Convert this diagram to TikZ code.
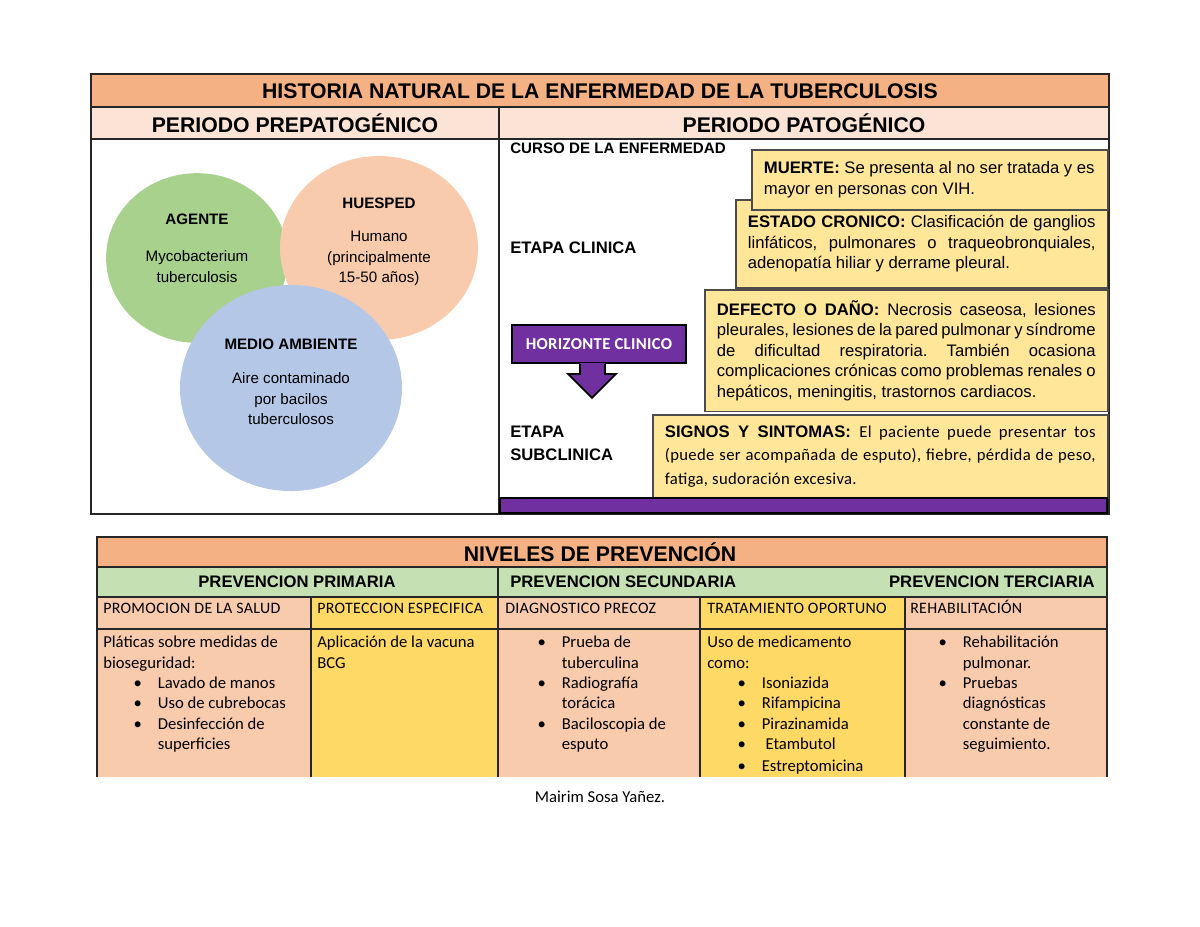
\documentclass[tikz,border=0pt]{standalone}
\usepackage{fontspec}
\setmainfont{Liberation Sans}
\newfontfamily\calibri{Carlito}
\newfontfamily\calibriwide{Carlito}[LetterSpace=2]
\usetikzlibrary{shapes,arrows,positioning,calc}

\definecolor{titleorange}{HTML}{F4B183}
\definecolor{periodpink}{HTML}{FBE4D5}
\definecolor{agentegreen}{HTML}{A9D18E}
\definecolor{huespedpeach}{HTML}{F8CBAD}
\definecolor{ambienteblue}{HTML}{B4C7E7}
\definecolor{stageyellow}{HTML}{FFE699}
\definecolor{hcpurple}{HTML}{7030A0}
\definecolor{prevgreen}{HTML}{C5E0B3}
\definecolor{cellpeach}{HTML}{F8CBAD}
\definecolor{cellyellow}{HTML}{FFD966}

\newcommand{\natspace}{\frenchspacing\spaceskip=0pt\xspaceskip=0pt}
\newcommand{\fullline}[1]{\makebox[\hsize][s]{#1}}
\newcommand{\bul}[1]{\hspace*{20pt}\makebox[16pt][l]{\textbullet}#1}
\newcommand{\bulcont}[1]{\hspace*{36pt}#1}

\begin{document}
\begin{tikzpicture}[x=0.66pt, y=-0.66pt,
  venn/.style={ellipse, inner sep=0pt},
  venntext/.style={align=center, font=\fontsize{10}{13.6}\selectfont},
  stagebox/.style={draw=black!70, line width=1pt, fill=stageyellow, anchor=north west,
    inner xsep=8pt, inner ysep=0pt, align=left, font=\fontsize{11}{13.5}\selectfont},
  bigtitle/.style={inner sep=0pt, font=\bfseries\fontsize{14}{16}\selectfont},
  stagelabel/.style={anchor=west, inner sep=0pt, align=left, font=\bfseries\fontsize{11}{15.2}\selectfont},
  prevhead/.style={inner sep=0pt, font=\bfseries\fontsize{11}{13}\selectfont},
  colhead/.style={anchor=base west, inner sep=0pt, font=\calibriwide\fontsize{10.5}{12}\selectfont},
  celltext/.style={anchor=north west, inner sep=0pt, align=left, font=\calibri\fontsize{11}{13.5}\selectfont},
  tablerule/.style={line width=1pt, draw=black!85}]
\useasboundingbox (0,0) rectangle (1200,927);

% Top table
\fill[titleorange] (91,74) rectangle (1109,107);
\fill[periodpink] (91,107) rectangle (1109,139);
\draw[tablerule] (91,74) rectangle (1109,514);
\draw[tablerule] (91,107) -- (1109,107);
\draw[tablerule] (91,139) -- (1109,139);
\draw[tablerule] (499,107) -- (499,514);

\node[bigtitle] (historia) at (600,91) {HISTORIA NATURAL DE LA ENFERMEDAD DE LA TUBERCULOSIS};
\node[bigtitle] (prepatogenico) at (295,123) {PERIODO PREPATOGÉNICO};
\node[bigtitle] (patogenico) at (804,123) {PERIODO PATOGÉNICO};

% Triada ecologica
\node[venn, fill=agentegreen, minimum width=120pt, minimum height=112pt] (agente) at (197,258) {};
\node[venn, fill=huespedpeach, minimum width=130.7pt, minimum height=121.4pt] (huesped) at (379,248) {};
\node[venn, fill=ambienteblue, minimum width=146.5pt, minimum height=136pt] (ambiente) at (291,388) {};
\node[venntext] (agentetext) at (197,248) {\textbf{AGENTE}\\[11pt] Mycobacterium\\ tuberculosis};
\node[venntext] (huespedtext) at (379,242) {\textbf{HUESPED}\\[8pt] Humano\\ (principalmente\\ 15-50 años)};
\node[venntext] (ambientetext) at (291,382) {\textbf{MEDIO AMBIENTE}\\[9pt] Aire contaminado\\ por bacilos\\ tuberculosos};

% Curso de la enfermedad
\node[anchor=west, inner sep=0pt, font=\bfseries\fontsize{10}{12}\selectfont] (curso) at (510,148) {CURSO DE LA ENFERMEDAD};
\node[stagelabel] (clinica) at (510,248) {ETAPA CLINICA};
\node[stagelabel] (subclinica) at (510,443) {ETAPA\\ SUBCLINICA};

\node[draw=black, line width=1.2pt, fill=hcpurple, text=white, inner sep=0pt,
  minimum width=114.8pt, minimum height=25.1pt,
  font=\calibriwide\bfseries\fontsize{11}{12}\selectfont] (horizonte) at (599,344) {HORIZONTE CLINICO};
\fill[hcpurple] ($(horizonte.south)+(-19,-1)$) -- ++(0,11) -- ++(-12,0) -- ++(24,24) -- ++(24,-24) -- ++(-11,0) -- ++(0,-11) -- cycle;
\draw[line width=1.2pt] ($(horizonte.south)+(-19,0)$) -- ++(0,10) -- ++(-12,0) -- ++(24,24) -- ++(24,-24) -- ++(-11,0) -- ++(0,-10);

% Stages
\node[stagebox, text width=284.3pt, minimum height=54.8pt, font=\fontsize{11}{15.5}\selectfont] (signos) at (652,414)
  {\natspace\fullline{\textbf{SIGNOS Y SINTOMAS:} {\calibriwide El paciente puede presentar tos}}\\
   \fullline{\calibriwide (puede ser acompañada de esputo), fiebre, pérdida de peso,}\\
   {\calibriwide fatiga, sudoración excesiva.}};
\node[stagebox, text width=250pt, minimum height=80.5pt] (defecto) at (704,289)
  {\natspace\fullline{\textbf{DEFECTO O DAÑO:} Necrosis caseosa, lesiones}\\
   \fullline{pleurales, lesiones de la pared pulmonar y síndrome}\\
   \fullline{de dificultad respiratoria. También ocasiona}\\
   \fullline{complicaciones crónicas como problemas renales o}\\
   hepáticos, meningitis, trastornos cardiacos.};
\node[stagebox, text width=229.5pt, minimum height=58.1pt] (cronico) at (735,199)
  {\natspace\fullline{\textbf{ESTADO CRONICO:} Clasificación de ganglios}\\
   \fullline{linfáticos, pulmonares o traqueobronquiales,}\\
   adenopatía hiliar y derrame pleural.};
\node[stagebox, text width=219pt, minimum height=39.6pt] (muerte) at (751,149)
  {\natspace\textbf{MUERTE:} Se presenta al no ser tratada y es\\
   mayor en personas con VIH.};

\draw[line width=1.2pt, fill=hcpurple] (500,498) rectangle (1107,513);

% Bottom table
\fill[titleorange] (97,537) rectangle (1107,567);
\fill[prevgreen] (97,567) rectangle (1107,597);
\fill[cellpeach] (97,597) rectangle (1107,777);
\fill[cellyellow] (311,597) rectangle (498,777);
\fill[cellyellow] (700,597) rectangle (905,777);
\draw[tablerule] (97,777) -- (97,537) -- (1107,537) -- (1107,777);
\foreach \y in {567,597,629}
  \draw[tablerule] (97,\y) -- (1107,\y);
\foreach \x in {311,700,905}
  \draw[tablerule] (\x,597) -- (\x,777);
\draw[tablerule] (498,567) -- (498,777);

\node[bigtitle] (niveles) at (600,552) {NIVELES DE PREVENCIÓN};
\node[prevhead] (primaria) at (297,582) {PREVENCION PRIMARIA};
\node[prevhead, anchor=west] (secundaria) at (510,582) {PREVENCION SECUNDARIA};
\node[prevhead, anchor=east] (terciaria) at (1095,582) {PREVENCION TERCIARIA};

\node[colhead] (promocion) at (103,613) {PROMOCION DE LA SALUD};
\node[colhead] (proteccion) at (317,613) {PROTECCION ESPECIFICA};
\node[colhead] (diagnostico) at (505,613) {DIAGNOSTICO PRECOZ};
\node[colhead] (tratamiento) at (707,613) {TRATAMIENTO OPORTUNO};
\node[colhead] (rehabilitacion) at (910,613) {REHABILITACIÓN};

\node[celltext] (platicas) at (103,633) {\strut Pláticas sobre medidas de\\ bioseguridad:\\
  \bul{Lavado de manos}\\ \bul{Uso de cubrebocas}\\ \bul{Desinfección de}\\ \bulcont{superficies}};
\node[celltext] (vacuna) at (317,633) {\strut Aplicación de la vacuna\\ BCG};
\node[celltext] (pruebas) at (507,633) {\strut\bul{Prueba de}\\ \bulcont{tuberculina}\\
  \bul{Radiografía}\\ \bulcont{torácica}\\ \bul{Baciloscopia de}\\ \bulcont{esputo}};
\node[celltext] (medicamento) at (707,633) {\strut Uso de medicamento\\ como:\\
  \bul{Isoniazida}\\ \bul{Rifampicina}\\ \bul{Pirazinamida}\\ \bul{\ Etambutol}\\[1pt] \bul{Estreptomicina}};
\node[celltext] (pulmonar) at (908,633) {\strut\bul{Rehabilitación}\\ \bulcont{pulmonar.}\\
  \bul{Pruebas}\\ \bulcont{diagnósticas}\\ \bulcont{constante de}\\ \bulcont{seguimiento.}};

\node[font=\calibri\fontsize{11}{13}\selectfont] (autora) at (600,797) {Mairim Sosa Yañez.};
\end{tikzpicture}
\end{document}
